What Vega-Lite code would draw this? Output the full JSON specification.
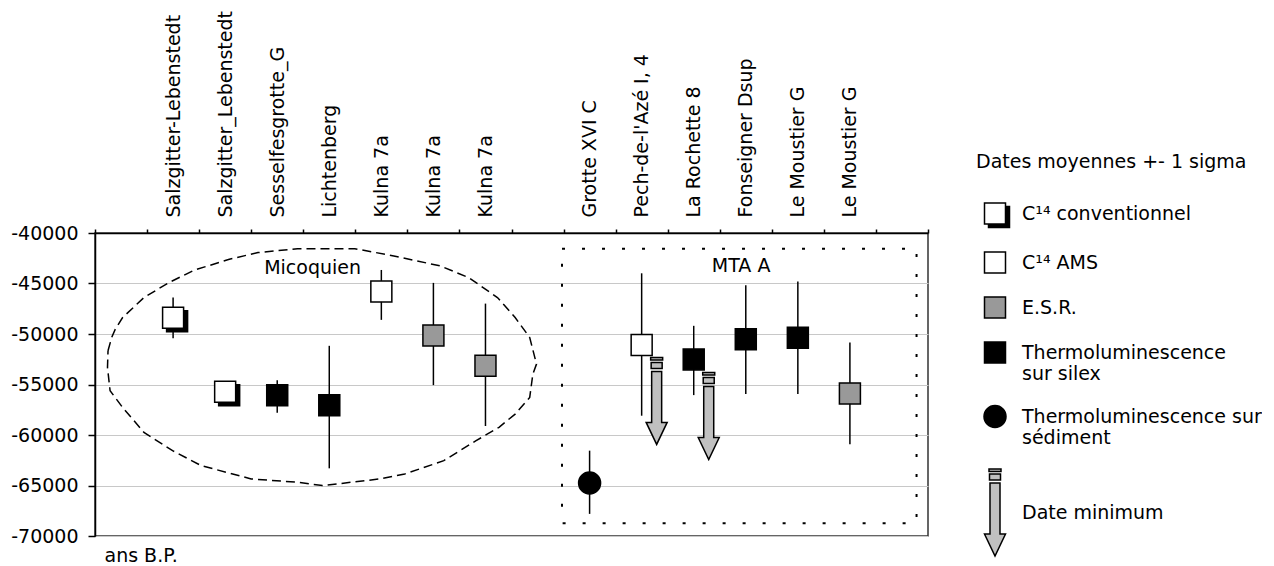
{
  "$schema": "https://vega.github.io/schema/vega-lite/v6.json",
  "width": 833,
  "height": 303,
  "padding": {"left": 10, "top": 10, "right": 0, "bottom": 0},
  "config": {
    "font": "DejaVu Sans",
    "view": {"stroke": "#333333", "strokeWidth": 1.5},
    "axis": {"labelFont": "DejaVu Sans", "titleFont": "DejaVu Sans"},
    "axisY": {"values": [-70000, -65000, -60000, -55000, -50000, -45000, -40000],
              "labelExpr": "'' + datum.value", "grid": true, "gridColor": "#c8c8c8", "gridWidth": 1,
              "domainColor": "black", "domainWidth": 1.5, "tickColor": "black", "tickSize": 7, "tickWidth": 1.5,
              "labelPadding": 10, "labelFontSize": 19, "labelColor": "black",
              "titleAngle": 0, "titleAlign": "left", "titleBaseline": "middle",
              "titleX": 9, "titleY": 322, "titleFontSize": 19, "titleFontWeight": "normal", "titleColor": "black"},
    "legend": {"labelFont": "DejaVu Sans", "titleFont": "DejaVu Sans"}
  },
  "datasets": {
    "dates": [
      {"slot": 1, "site": "Salzgitter-Lebenstedt", "methode": "C¹⁴ conventionnel", "moyenne": -48400, "bas": -50410, "haut": -46390},
      {"slot": 2, "site": "Salzgitter_Lebenstedt", "methode": "C¹⁴ conventionnel", "moyenne": -55720, "bas": -56400, "haut": -55000},
      {"slot": 3, "site": "Sesselfesgrotte_G", "methode": "Thermoluminescence sur silex", "moyenne": -56060, "bas": -57790, "haut": -54570},
      {"slot": 4, "site": "Lichtenberg", "methode": "Thermoluminescence sur silex", "moyenne": -57050, "bas": -63300, "haut": -51170},
      {"slot": 5, "site": "Kulna 7a", "methode": "C¹⁴ AMS", "moyenne": -45780, "bas": -48600, "haut": -43660},
      {"slot": 6, "site": "Kulna 7a", "methode": "E.S.R.", "moyenne": -50150, "bas": -55060, "haut": -44940},
      {"slot": 7, "site": "Kulna 7a", "methode": "E.S.R.", "moyenne": -53150, "bas": -59110, "haut": -46990},
      {"slot": 9, "site": "Grotte XVI C", "methode": "Thermoluminescence sur sédiment", "moyenne": -64750, "bas": -67810, "haut": -61550},
      {"slot": 10, "site": "Pech-de-l'Azé I, 4", "methode": "C¹⁴ AMS", "moyenne": -51100, "bas": -58090, "haut": -43990},
      {"slot": 11, "site": "La Rochette 8", "methode": "Thermoluminescence sur silex", "moyenne": -52520, "bas": -56050, "haut": -49190},
      {"slot": 12, "site": "Fonseigner Dsup", "methode": "Thermoluminescence sur silex", "moyenne": -50510, "bas": -55950, "haut": -45170},
      {"slot": 13, "site": "Le Moustier G", "methode": "Thermoluminescence sur silex", "moyenne": -50380, "bas": -55950, "haut": -44810},
      {"slot": 14, "site": "Le Moustier G", "methode": "E.S.R.", "moyenne": -55880, "bas": -60920, "haut": -50840},
      {"slot": 10, "site": "Pech-de-l'Azé I, 4", "methode": "Date minimum", "moyenne": -52320},
      {"slot": 11, "site": "La Rochette 8", "methode": "Date minimum", "moyenne": -53810}
    ],
    "contour": [
      {"ordre": 1, "x": 0.25, "y": -51660},
      {"ordre": 2, "x": 0.32, "y": -50350},
      {"ordre": 3, "x": 0.39, "y": -49520},
      {"ordre": 4, "x": 0.53, "y": -48370},
      {"ordre": 5, "x": 0.94, "y": -46390},
      {"ordre": 6, "x": 1.42, "y": -44910},
      {"ordre": 7, "x": 1.90, "y": -43690},
      {"ordre": 8, "x": 2.58, "y": -42600},
      {"ordre": 9, "x": 3.13, "y": -41940},
      {"ordre": 10, "x": 3.89, "y": -41550},
      {"ordre": 11, "x": 4.99, "y": -41550},
      {"ordre": 12, "x": 5.74, "y": -42270},
      {"ordre": 13, "x": 6.63, "y": -43260},
      {"ordre": 14, "x": 7.18, "y": -44420},
      {"ordre": 15, "x": 7.73, "y": -46390},
      {"ordre": 16, "x": 8.07, "y": -48370},
      {"ordre": 17, "x": 8.35, "y": -50350},
      {"ordre": 18, "x": 8.48, "y": -52980},
      {"ordre": 19, "x": 8.41, "y": -53970},
      {"ordre": 20, "x": 8.35, "y": -56280},
      {"ordre": 21, "x": 8.07, "y": -57930},
      {"ordre": 22, "x": 7.76, "y": -59240},
      {"ordre": 23, "x": 7.32, "y": -60560},
      {"ordre": 24, "x": 6.70, "y": -62540},
      {"ordre": 25, "x": 5.95, "y": -63860},
      {"ordre": 26, "x": 5.47, "y": -64350},
      {"ordre": 27, "x": 4.37, "y": -65010},
      {"ordre": 28, "x": 3.89, "y": -64680},
      {"ordre": 29, "x": 3.00, "y": -64350},
      {"ordre": 30, "x": 2.04, "y": -63030},
      {"ordre": 31, "x": 1.49, "y": -61550},
      {"ordre": 32, "x": 0.94, "y": -59740},
      {"ordre": 33, "x": 0.53, "y": -57270},
      {"ordre": 34, "x": 0.29, "y": -55620},
      {"ordre": 35, "x": 0.24, "y": -53310},
      {"ordre": 36, "x": 0.25, "y": -51660}
    ],
    "cadre": [
      {"groupe": "MTA A", "x1": 8.97, "x2": 15.78, "y1": -41550, "y2": -68730}
    ],
    "etiquettes": [
      {"texte": "Micoquien", "x": 4.18, "y": -43430},
      {"texte": "MTA A", "x": 12.41, "y": -43260}
    ]
  },
  "layer": [
    {
      "layer": [
        {
          "data": {"name": "contour"},
          "mark": {"type": "line", "stroke": "black", "strokeWidth": 1.5, "strokeDash": [9, 5]},
          "encoding": {
            "x": {"field": "x", "type": "quantitative", "scale": {"domain": [0, 16], "nice": false, "zero": false},
                  "axis": {"orient": "top", "values": [0,1,2,3,4,5,6,7,8,9,10,11,12,13,14,15,16], "labels": false, "domain": false, "grid": false, "tickSize": -8, "tickColor": "black", "tickWidth": 1.5, "title": null}},
            "y": {"field": "y", "type": "quantitative", "scale": {"domain": [-70000, -40000], "nice": false, "zero": false}, "axis": {"orient": "left", "title": "ans B.P."}},
            "order": {"field": "ordre", "type": "quantitative"}
          }
        },
        {
          "data": {"name": "cadre"},
          "mark": {"type": "rect", "fill": null, "stroke": "black", "strokeWidth": 2, "strokeDash": [3, 17]},
          "encoding": {
            "x": {"field": "x1", "type": "quantitative", "scale": {"domain": [0, 16], "nice": false, "zero": false}, "axis": null},
            "x2": {"field": "x2"},
            "y": {"field": "y1", "type": "quantitative", "scale": {"domain": [-70000, -40000], "nice": false, "zero": false}, "axis": {"orient": "left", "title": "ans B.P."}},
            "y2": {"field": "y2"}
          }
        },
        {
          "data": {"name": "etiquettes"},
          "mark": {"type": "text", "fontSize": 19, "color": "black", "align": "center", "baseline": "middle"},
          "encoding": {
            "x": {"field": "x", "type": "quantitative", "scale": {"domain": [0, 16], "nice": false, "zero": false}, "axis": null},
            "y": {"field": "y", "type": "quantitative", "scale": {"domain": [-70000, -40000], "nice": false, "zero": false}, "axis": {"orient": "left", "title": "ans B.P."}},
            "text": {"field": "texte"}
          }
        }
      ]
    },
    {
      "data": {"name": "dates"},
      "encoding": {
        "x": {"field": "slot", "type": "ordinal",
              "scale": {"type": "band", "domain": [0,1,2,3,4,5,6,7,8,9,10,11,12,13,14,15], "paddingInner": 0, "paddingOuter": 0},
              "axis": {"orient": "top", "title": null, "labelAngle": -90, "labelAlign": "left", "labelBaseline": "middle",
                       "labelExpr": "['', 'Salzgitter-Lebenstedt', 'Salzgitter_Lebenstedt', 'Sesselfesgrotte_G', 'Lichtenberg', 'Kulna 7a', 'Kulna 7a', 'Kulna 7a', '', 'Grotte XVI C', \"Pech-de-l'Azé I, 4\", 'La Rochette 8', 'Fonseigner Dsup', 'Le Moustier G', 'Le Moustier G', ''][datum.value]",
                       "tickBand": "extent", "tickSize": 4, "tickColor": "black", "tickWidth": 1.5,
                       "domainColor": "black", "domainWidth": 1.5, "labelPadding": 12, "labelFontSize": 19,
                       "labelColor": "black", "labelLimit": 400, "grid": false}}
      },
      "layer": [
        {
          "transform": [{"filter": "isValid(datum.bas)"}],
          "mark": {"type": "rule", "stroke": "black", "strokeWidth": 1.5},
          "encoding": {
            "y": {"field": "bas", "type": "quantitative", "scale": {"domain": [-70000, -40000], "nice": false, "zero": false}, "axis": {"orient": "left", "title": "ans B.P."}},
            "y2": {"field": "haut"}
          }
        },
        {
          "transform": [{"filter": "datum.methode === 'C¹⁴ conventionnel'"}],
          "mark": {"type": "point", "filled": true, "fill": "white", "strokeWidth": 0, "opacity": 1, "size": 4,
                   "shape": "M-10.5,-10.5H10.5V10.5H-10.5Z"},
          "encoding": {
            "y": {"field": "moyenne", "type": "quantitative", "scale": {"domain": [-70000, -40000], "nice": false, "zero": false}, "axis": {"orient": "left", "title": "ans B.P."}}
          }
        },
        {
          "transform": [{"filter": "datum.methode !== 'Date minimum'"}],
          "mark": {"type": "point", "filled": true, "stroke": "black", "strokeWidth": 1.5, "opacity": 1, "size": 4},
          "encoding": {
            "y": {"field": "moyenne", "type": "quantitative", "scale": {"domain": [-70000, -40000], "nice": false, "zero": false}, "axis": {"orient": "left", "title": "ans B.P."}},
            "shape": {"field": "methode", "type": "nominal",
                      "scale": {"domain": ["C¹⁴ conventionnel", "C¹⁴ AMS", "E.S.R.", "Thermoluminescence sur silex", "Thermoluminescence sur sédiment", "Date minimum"],
                                "range": ["M-10.5,-10.5H10.5V10.5H-10.5Z M-10.5,-10.5V10.5H10.5V-10.5Z M10.5,-7H14.5V14H-6.5V10.5H10.5Z",
                                          "M-10.5,-10.5H10.5V10.5H-10.5Z", "M-10.5,-10.5H10.5V10.5H-10.5Z", "M-10.5,-10.5H10.5V10.5H-10.5Z",
                                          "M-11,0A11,11 0 1,1 11,0A11,11 0 1,1 -11,0Z",
                                          "M-6,-43.5H6V-41H-6Z M-5.5,-38.5H5.5V-32.5H-5.5Z M-5,-29.5H5V21.5H10.5L0,43.5L-10.5,21.5H-5Z"]}},
            "fill": {"field": "methode", "type": "nominal",
                     "scale": {"domain": ["C¹⁴ conventionnel", "C¹⁴ AMS", "E.S.R.", "Thermoluminescence sur silex", "Thermoluminescence sur sédiment", "Date minimum"],
                               "range": ["black", "white", "#999999", "black", "black", "#c0c0c0"]},
                     "legend": {
                       "title": "Dates moyennes +- 1 sigma", "orient": "none", "legendX": 881, "legendY": -80,
                       "titleFontSize": 19, "titleFontWeight": "normal", "titleColor": "black", "titlePadding": 32, "titleLimit": 500,
                       "labelFontSize": 19, "labelColor": "black", "labelLimit": 400,
                       "symbolSize": 4, "symbolOffset": 9.5, "labelOffset": 17.5, "rowPadding": 18,
                       "symbolStrokeColor": "black", "symbolStrokeWidth": 1.5, "symbolOpacity": 1,
                       "labelExpr": "datum.label === 'Thermoluminescence sur silex' ? ['Thermoluminescence', 'sur silex'] : datum.label === 'Thermoluminescence sur sédiment' ? ['Thermoluminescence sur', 'sédiment'] : datum.label"
                     }}
          }
        },
        {
          "transform": [{"filter": "datum.methode === 'Date minimum'"}],
          "mark": {"type": "point", "filled": true, "stroke": "black", "strokeWidth": 1.5, "opacity": 1, "size": 4, "xOffset": 15, "yOffset": 43.5},
          "encoding": {
            "y": {"field": "moyenne", "type": "quantitative", "scale": {"domain": [-70000, -40000], "nice": false, "zero": false}, "axis": {"orient": "left", "title": "ans B.P."}},
            "shape": {"field": "methode", "type": "nominal",
                      "scale": {"domain": ["C¹⁴ conventionnel", "C¹⁴ AMS", "E.S.R.", "Thermoluminescence sur silex", "Thermoluminescence sur sédiment", "Date minimum"],
                                "range": ["M-10.5,-10.5H10.5V10.5H-10.5Z M-10.5,-10.5V10.5H10.5V-10.5Z M10.5,-7H14.5V14H-6.5V10.5H10.5Z",
                                          "M-10.5,-10.5H10.5V10.5H-10.5Z", "M-10.5,-10.5H10.5V10.5H-10.5Z", "M-10.5,-10.5H10.5V10.5H-10.5Z",
                                          "M-11,0A11,11 0 1,1 11,0A11,11 0 1,1 -11,0Z",
                                          "M-6,-43.5H6V-41H-6Z M-5.5,-38.5H5.5V-32.5H-5.5Z M-5,-29.5H5V21.5H10.5L0,43.5L-10.5,21.5H-5Z"]}},
            "fill": {"field": "methode", "type": "nominal",
                     "scale": {"domain": ["C¹⁴ conventionnel", "C¹⁴ AMS", "E.S.R.", "Thermoluminescence sur silex", "Thermoluminescence sur sédiment", "Date minimum"],
                               "range": ["black", "white", "#999999", "black", "black", "#c0c0c0"]},
                     "legend": {
                       "title": "Dates moyennes +- 1 sigma", "orient": "none", "legendX": 881, "legendY": -80,
                       "titleFontSize": 19, "titleFontWeight": "normal", "titleColor": "black", "titlePadding": 32, "titleLimit": 500,
                       "labelFontSize": 19, "labelColor": "black", "labelLimit": 400,
                       "symbolSize": 4, "symbolOffset": 9.5, "labelOffset": 17.5, "rowPadding": 18,
                       "symbolStrokeColor": "black", "symbolStrokeWidth": 1.5, "symbolOpacity": 1,
                       "labelExpr": "datum.label === 'Thermoluminescence sur silex' ? ['Thermoluminescence', 'sur silex'] : datum.label === 'Thermoluminescence sur sédiment' ? ['Thermoluminescence sur', 'sédiment'] : datum.label"
                     }}
          }
        }
      ]
    }
  ],
  "resolve": {"scale": {"x": "independent"}}
}
